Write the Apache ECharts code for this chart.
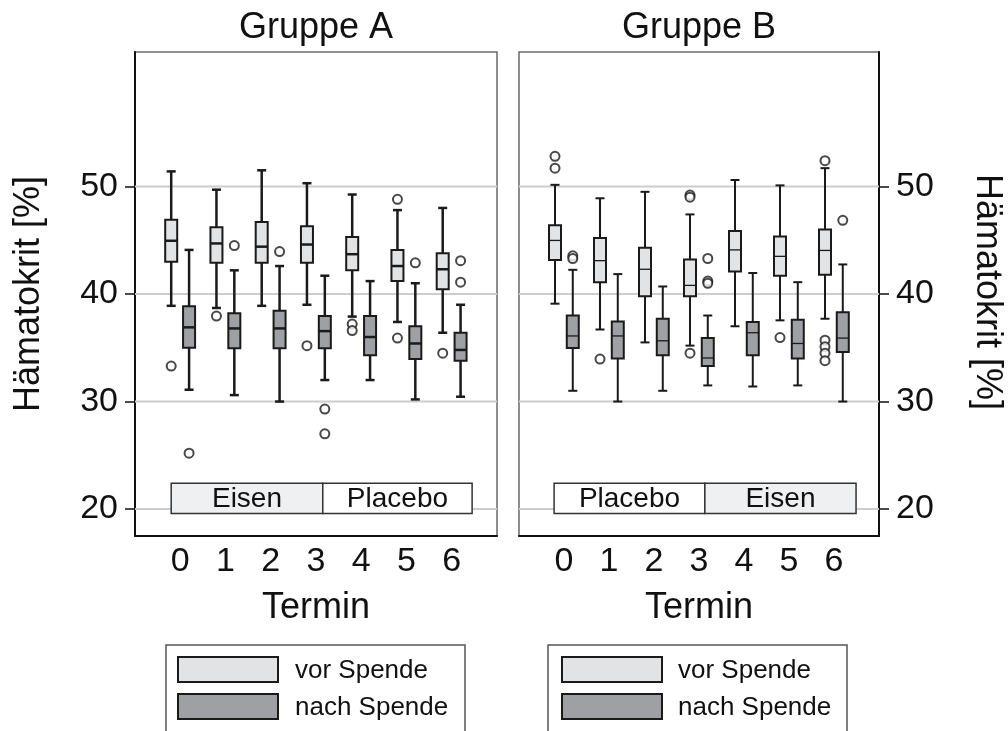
<!DOCTYPE html>
<html><head><meta charset="utf-8">
<script src="https://cdn.jsdelivr.net/npm/echarts@6/dist/echarts.min.js"></script>
<style>html,body{margin:0;padding:0;background:#fff}#c{width:1008px;height:731px}</style>
</head><body><div id="c"></div>
<script>
// ---------- data ----------
const termine = ['0', '1', '2', '3', '4', '5', '6'];
const yTicks = [20, 30, 40, 50];
const seriesNames = ['vor Spende', 'nach Spende'];
const panelTitles = ['Gruppe A', 'Gruppe B'];

// [Termin, Minimum, Q1, Median, Q3, Maximum]
const vorA = [
  [0, 38.9, 43.0, 44.95, 46.9, 51.4],
  [1, 38.7, 42.9, 44.7, 46.2, 49.7],
  [2, 38.9, 42.9, 44.4, 46.7, 51.5],
  [3, 39.0, 42.9, 44.6, 46.3, 50.3],
  [4, 37.9, 42.2, 43.7, 45.3, 49.25],
  [5, 37.4, 41.2, 42.6, 44.1, 47.8],
  [6, 36.4, 40.45, 42.3, 43.8, 48.0]
];
const nachA = [
  [0, 31.1, 35.0, 36.9, 38.85, 44.1],
  [1, 30.6, 34.95, 36.8, 38.2, 42.2],
  [2, 30.0, 34.95, 36.8, 38.45, 42.6],
  [3, 32.0, 34.95, 36.55, 37.95, 41.7],
  [4, 32.0, 34.3, 36.0, 37.95, 41.2],
  [5, 30.2, 33.95, 35.4, 37.0, 41.0],
  [6, 30.45, 33.8, 34.8, 36.4, 39.0]
];
const vorB = [
  [0, 39.1, 43.15, 44.98, 46.4, 50.15],
  [1, 36.7, 41.1, 43.1, 45.2, 48.9],
  [2, 35.5, 39.8, 42.3, 44.3, 49.5],
  [3, 35.2, 39.8, 40.8, 43.2, 47.4],
  [4, 37.0, 42.1, 44.1, 45.85, 50.6],
  [5, 37.55, 41.7, 43.5, 45.35, 50.1],
  [6, 37.7, 41.8, 44.05, 46.0, 51.7]
];
const nachB = [
  [0, 31.0, 34.97, 36.1, 38.0, 42.25],
  [1, 30.0, 34.0, 36.1, 37.45, 41.85],
  [2, 31.0, 34.3, 35.65, 37.7, 40.7],
  [3, 31.5, 33.3, 34.05, 35.9, 38.0],
  [4, 31.4, 34.3, 36.4, 37.4, 41.95],
  [5, 31.5, 34.0, 35.4, 37.6, 41.1],
  [6, 30.0, 34.6, 35.9, 38.3, 42.75]
];
// outliers: [Termin, value]
const vorAOut = [[0, 33.3], [1, 37.95], [3, 35.2], [4, 37.2], [4, 36.6], [5, 48.8], [5, 35.9], [6, 34.5]];
const nachAOut = [[0, 25.2], [1, 44.5], [2, 43.95], [3, 29.3], [3, 27.0], [5, 42.9], [6, 43.1], [6, 41.1]];
const vorBOut = [[0, 52.8], [0, 51.7], [1, 33.95], [3, 49.2], [3, 49.0], [3, 34.5], [5, 35.95], [6, 52.4], [6, 35.7], [6, 35.1], [6, 34.5], [6, 33.8]];
const nachBOut = [[0, 43.55], [0, 43.3], [3, 43.3], [3, 41.2], [3, 41.0], [6, 46.85]];

// treatment phases (labels and boundaries on the Termin scale)
const phasesA = ['Eisen', 'Placebo'];
const phaseBreaksA = [-0.2, 3.15, 6.45];
const phasesB = ['Placebo', 'Eisen'];
const phaseBreaksB = [-0.22, 3.13, 6.49];

// ---------- styling ----------
const FONT = '"Liberation Sans", Arial, Helvetica, sans-serif';
const INK = '#1a1a1a';
const VOR_FILL = '#e2e3e5';
const NACH_FILL = '#9ea0a3';
const EISEN_FILL = '#eef0f2';
const SERIES_FILLS = [VOR_FILL, NACH_FILL];
const OFF_VOR = -0.2, OFF_NACH = 0.195;
const PHASE_TOP = 22.4, PHASE_BOTTOM = 19.6;

function boxRender(offset, fill, medianW, whiskerW) {
  return function (params, api) {
    const t = api.value(0) + offset;
    const pts = [1, 2, 3, 4, 5].map(i => api.coord([t, api.value(i)]));
    const cx = pts[0][0];
    const yMin = pts[0][1], yQ1 = pts[1][1], yMed = pts[2][1], yQ3 = pts[3][1], yMax = pts[4][1];
    const hw = 6, cap = 4.5;
    const ls = { stroke: INK, lineWidth: whiskerW };
    return {
      type: 'group', children: [
        { type: 'line', shape: { x1: cx, y1: yMax, x2: cx, y2: yQ3 }, style: ls },
        { type: 'line', shape: { x1: cx, y1: yQ1, x2: cx, y2: yMin }, style: ls },
        { type: 'line', shape: { x1: cx - cap, y1: yMax, x2: cx + cap, y2: yMax }, style: ls },
        { type: 'line', shape: { x1: cx - cap, y1: yMin, x2: cx + cap, y2: yMin }, style: ls },
        { type: 'rect', shape: { x: cx - hw, y: yQ3, width: 2 * hw, height: yQ1 - yQ3 }, style: { fill: fill, stroke: INK, lineWidth: 2 } },
        { type: 'line', shape: { x1: cx - hw, y1: yMed, x2: cx + hw, y2: yMed }, style: { stroke: INK, lineWidth: medianW } }
      ]
    };
  };
}
function gridLineRender(params, api) {
  const cs = params.coordSys;
  const y = api.coord([0, api.value(0)])[1];
  return { type: 'line', shape: { x1: cs.x, y1: y, x2: cs.x + cs.width, y2: y }, style: { stroke: '#cdcdcd', lineWidth: 2 } };
}
function phaseRender(names) {
  return function (params, api) {
    const a = api.coord([api.value(0), PHASE_TOP]);
    const b = api.coord([api.value(1), PHASE_BOTTOM]);
    const name = names[api.value(2)];
    return {
      type: 'group', children: [
        { type: 'rect', shape: { x: a[0], y: a[1], width: b[0] - a[0], height: b[1] - a[1] },
          style: { fill: name === 'Eisen' ? EISEN_FILL : '#ffffff', stroke: '#333', lineWidth: 1.5 } },
        { type: 'text', style: { text: name, x: (a[0] + b[0]) / 2, y: (a[1] + b[1]) / 2 + 1, align: 'center', verticalAlign: 'middle',
          fontSize: 28, fontFamily: FONT, fill: '#111' } }
      ]
    };
  };
}
function phaseData(breaks) {
  return breaks.slice(0, -1).map((b, i) => [b, breaks[i + 1], i]);
}

function xAxisCfg(gi) {
  return {
    type: 'value', gridIndex: gi, min: -1, max: 7, interval: 1,
    axisLine: { show: true, onZero: false, lineStyle: { color: '#111', width: 2 } },
    axisTick: { show: false }, splitLine: { show: false },
    axisLabel: { formatter: v => (termine[v] !== undefined ? termine[v] : ''), fontSize: 34, fontFamily: FONT, color: '#111', margin: 9 }
  };
}
function yAxisCfg(gi, pos) {
  return {
    type: 'value', gridIndex: gi, min: 17.5, max: 62.5, position: pos,
    axisLine: { show: true, onZero: false, lineStyle: { color: '#111', width: 2 } },
    axisTick: { show: true, customValues: yTicks, length: 10, lineStyle: { color: '#111', width: 1.5 } },
    axisLabel: { customValues: yTicks, formatter: v => (yTicks.indexOf(v) >= 0 ? String(v) : ''), fontSize: 34, fontFamily: FONT, color: '#111', margin: 17 },
    splitLine: { show: false }
  };
}
// legend box drawn as graphic group (vertical, framed)
function legendGraphic(frameX, swatchX, textX) {
  const children = [
    { type: 'rect', shape: { x: frameX, y: 645, width: 299, height: 110 }, style: { fill: 'none', stroke: '#555', lineWidth: 1.5 } }
  ];
  seriesNames.forEach((name, i) => {
    const top = 657 + i * 37;
    children.push({ type: 'rect', shape: { x: swatchX, y: top, width: 100, height: 25 }, style: { fill: SERIES_FILLS[i], stroke: INK, lineWidth: 2 } });
    children.push({ type: 'text', style: { text: name, x: textX, y: top + 13.5, align: 'left', verticalAlign: 'middle', fontSize: 26, fontFamily: FONT, fill: '#111' } });
  });
  return { type: 'group', children: children };
}
function outlierSeries(data, offset, gi) {
  return {
    type: 'scatter', xAxisIndex: gi, yAxisIndex: gi, z: 4, symbol: 'circle', symbolSize: 9, silent: true,
    itemStyle: { color: '#ffffff', borderColor: INK, borderWidth: 2 },
    data: data.map(d => [d[0] + offset, d[1]])
  };
}
function boxSeries(name, data, gi, offset, fill, medianW, whiskerW) {
  return {
    type: 'custom', name: name, xAxisIndex: gi, yAxisIndex: gi, z: 3,
    renderItem: boxRender(offset, fill, medianW, whiskerW),
    encode: { x: 0, y: [1, 2, 3, 4, 5] },
    itemStyle: { color: fill, borderColor: INK },
    data: data
  };
}
function gridSeries(gi) {
  return { type: 'custom', xAxisIndex: gi, yAxisIndex: gi, z: 1, silent: true, renderItem: gridLineRender,
    encode: { y: 0 }, data: yTicks.map(v => [v]) };
}
function phaseSeries(names, breaks, gi) {
  return { type: 'custom', xAxisIndex: gi, yAxisIndex: gi, z: 2, silent: true, renderItem: phaseRender(names),
    encode: { x: [0, 1] }, data: phaseData(breaks) };
}

const chart = echarts.init(document.getElementById('c'), null, { renderer: 'canvas' });
chart.setOption({
  backgroundColor: '#ffffff',
  animation: false,
  grid: [
    { left: 135, top: 52, width: 362, height: 484, show: true, borderColor: '#6a6a6a', borderWidth: 1.5 },
    { left: 519, top: 52, width: 360, height: 484, show: true, borderColor: '#6a6a6a', borderWidth: 1.5 }
  ],
  xAxis: [xAxisCfg(0), xAxisCfg(1)],
  yAxis: [yAxisCfg(0, 'left'), yAxisCfg(1, 'right')],
  graphic: [
    { type: 'text', x: 316, y: 28, style: { text: panelTitles[0], fontSize: 36, fontFamily: FONT, fill: '#111', align: 'center', verticalAlign: 'middle' } },
    { type: 'text', x: 699, y: 28, style: { text: panelTitles[1], fontSize: 36, fontFamily: FONT, fill: '#111', align: 'center', verticalAlign: 'middle' } },
    { type: 'text', x: 316, y: 608, style: { text: 'Termin', fontSize: 36, fontFamily: FONT, fill: '#111', align: 'center', verticalAlign: 'middle' } },
    { type: 'text', x: 699, y: 608, style: { text: 'Termin', fontSize: 36, fontFamily: FONT, fill: '#111', align: 'center', verticalAlign: 'middle' } },
    { type: 'text', x: 29, y: 294, rotation: Math.PI / 2, style: { text: 'Hämatokrit [%]', fontSize: 36, fontFamily: FONT, fill: '#111', align: 'center', verticalAlign: 'middle' } },
    { type: 'text', x: 987, y: 292, rotation: -Math.PI / 2, style: { text: 'Hämatokrit [%]', fontSize: 36, fontFamily: FONT, fill: '#111', align: 'center', verticalAlign: 'middle' } },
    legendGraphic(166, 178, 295),
    legendGraphic(548, 562, 678)
  ],
  series: [
    gridSeries(0), gridSeries(1),
    phaseSeries(phasesA, phaseBreaksA, 0), phaseSeries(phasesB, phaseBreaksB, 1),
    boxSeries(seriesNames[0], vorA, 0, OFF_VOR, VOR_FILL, 2.5, 2.5),
    boxSeries(seriesNames[1], nachA, 0, OFF_NACH, NACH_FILL, 2.5, 2.5),
    boxSeries(seriesNames[0], vorB, 1, OFF_VOR, VOR_FILL, 1.3, 2),
    boxSeries(seriesNames[1], nachB, 1, OFF_NACH, NACH_FILL, 1.3, 2),
    outlierSeries(vorAOut, OFF_VOR, 0), outlierSeries(nachAOut, OFF_NACH, 0),
    outlierSeries(vorBOut, OFF_VOR, 1), outlierSeries(nachBOut, OFF_NACH, 1)
  ]
});
</script></body></html>
